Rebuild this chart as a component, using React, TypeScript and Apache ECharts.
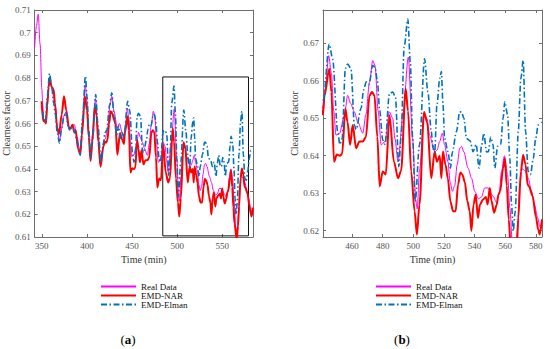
import React, { useEffect, useRef } from "react";
import * as echarts from "echarts";

// ---- data (time in min, clearness factor) ----
const seriesNames = ["Real Data", "EMD-NAR", "EMD-Elman"];

const realData: number[][] = [
  [342, 0.6935], [344, 0.703], [346, 0.7082], [348, 0.695], [350, 0.675], [351, 0.668], [352, 0.6617],
  [354, 0.66], [356, 0.67], [357, 0.675], [358.5, 0.679], [361, 0.676], [363, 0.672], [365, 0.667],
  [367, 0.658], [369.5, 0.652], [372, 0.658], [374, 0.663], [376.5, 0.665], [379, 0.66], [381, 0.657],
  [384, 0.659], [386, 0.6595], [389, 0.654], [392.5, 0.647], [395, 0.66], [398, 0.677], [400, 0.67],
  [402, 0.656], [404, 0.645], [406, 0.655], [409.5, 0.671], [412, 0.658], [415, 0.6425], [418, 0.65],
  [420, 0.653], [423, 0.658], [425.5, 0.668], [427.5, 0.672], [430, 0.6654], [433.5, 0.658], [436, 0.66],
  [439, 0.656], [441, 0.6525], [442.5, 0.658], [444.7, 0.6667], [446.5, 0.662], [448, 0.652],
  [449.5, 0.6455], [451.7, 0.6459], [455, 0.6508], [457.1, 0.6561], [459, 0.654], [461.5, 0.6517],
  [463.7, 0.649], [467, 0.646], [469, 0.651], [471.4, 0.6597], [473.5, 0.6654], [475, 0.664],
  [477, 0.652], [479, 0.6429], [481.5, 0.6438], [484.4, 0.6517], [486.5, 0.65], [488, 0.6445],
  [490, 0.6384], [493.4, 0.6517], [496.7, 0.6663], [499.5, 0.6446], [501.6, 0.628], [502.5, 0.6258],
  [504, 0.636], [507, 0.6513], [509, 0.6498], [510.6, 0.6455], [512.8, 0.6429], [514, 0.641],
  [515.5, 0.6415], [517.2, 0.6438], [518.9, 0.646], [520.4, 0.6429], [522.6, 0.6384], [524, 0.633],
  [525.5, 0.6305], [527, 0.632], [528.6, 0.6376], [530.3, 0.642], [531.4, 0.6425], [533, 0.641],
  [535.7, 0.6367], [538, 0.634], [540.1, 0.6305], [542.5, 0.6285], [544.5, 0.629], [546.6, 0.6314],
  [548.8, 0.6314], [550.5, 0.63], [552, 0.6292], [554.3, 0.6275], [556, 0.63], [557.6, 0.6358],
  [559.5, 0.64], [561.5, 0.635], [563, 0.626], [565, 0.614], [566.5, 0.612], [568, 0.62],
  [569.5, 0.632], [571, 0.6365], [573, 0.636], [575, 0.634], [577.2, 0.6305], [579, 0.627],
  [581.2, 0.6234], [582.6, 0.621], [584, 0.622],
];

const emdNar: number[][] = [
  [349.7, 0.6698], [351.5, 0.661], [353, 0.6615], [354.5, 0.66], [356, 0.668], [357.5, 0.676],
  [358.5, 0.68], [361, 0.676], [363, 0.675], [364.5, 0.669], [367, 0.658], [369, 0.6555], [372, 0.664],
  [374.5, 0.672], [377, 0.666], [380, 0.658], [382, 0.658], [384, 0.6595], [386, 0.656], [387.5, 0.657],
  [390, 0.649], [392.5, 0.6465], [394.5, 0.655], [397.6, 0.672], [400, 0.666], [402, 0.654],
  [404, 0.6435], [406, 0.652], [408.6, 0.6676], [410.5, 0.664], [412.5, 0.652], [415, 0.641],
  [418.2, 0.6499], [419.6, 0.652], [421, 0.6515], [422.7, 0.6528], [424.5, 0.66], [426.3, 0.6654],
  [428, 0.6645], [430, 0.6617], [431.5, 0.66], [433.7, 0.6462], [436.6, 0.6558], [439, 0.653],
  [441, 0.651], [442, 0.6561], [445.1, 0.6632], [446.5, 0.657], [448.2, 0.6384], [450, 0.6403],
  [452, 0.64], [453.5, 0.6405], [455.6, 0.6526], [457, 0.649], [458.7, 0.6429], [460.4, 0.6482],
  [462.6, 0.642], [464.8, 0.6438], [467, 0.6438], [469, 0.645], [471.4, 0.6561], [473, 0.657],
  [474.6, 0.6561], [476.5, 0.645], [478, 0.6318], [480, 0.6358], [482, 0.635], [484.4, 0.6508],
  [487.3, 0.6384], [490, 0.634], [492, 0.636], [495, 0.6579], [496.5, 0.652], [498.6, 0.6358],
  [500.8, 0.6252], [502.3, 0.619], [504, 0.627], [507, 0.6517], [509, 0.649], [511.7, 0.634],
  [513.9, 0.6411], [515.4, 0.6384], [517.2, 0.64], [518.3, 0.634], [519.3, 0.6411], [521, 0.6376],
  [522.5, 0.634], [524.2, 0.6278], [525.9, 0.6252], [527.6, 0.6252], [529.2, 0.6323], [530.7, 0.6355],
  [532, 0.635], [533.6, 0.633], [535.2, 0.628], [536.8, 0.6252], [537.9, 0.6199], [539.3, 0.627],
  [540.7, 0.6296], [542.2, 0.6234], [543.5, 0.627], [545.5, 0.6283], [547.3, 0.629], [548.5, 0.627],
  [549.9, 0.6314], [551, 0.628], [552.7, 0.6248], [554.5, 0.627], [555.5, 0.6296], [556.7, 0.6305],
  [558.6, 0.6367], [559.7, 0.6393], [561, 0.632], [562.3, 0.623], [563.5, 0.616], [566, 0.609],
  [567.5, 0.615], [568.5, 0.6234], [570.2, 0.6358], [571.7, 0.6402], [573.3, 0.6376], [574.6, 0.6323],
  [575.5, 0.6318], [577.9, 0.6292], [580, 0.6238], [581.5, 0.6203], [582.5, 0.619], [584, 0.623],
];

const emdElman: number[][] = [
  [351, 0.665], [352, 0.661], [354, 0.6605], [356, 0.672], [358.5, 0.682], [361, 0.676], [363, 0.669],
  [365, 0.664], [367, 0.656], [369.5, 0.6514], [372, 0.658], [374.5, 0.663], [376.5, 0.665], [379, 0.659],
  [381, 0.657], [384, 0.6585], [386, 0.657], [389, 0.652], [392.5, 0.646], [395, 0.662], [398.3, 0.6809],
  [400, 0.672], [402, 0.657], [404, 0.645], [406, 0.652], [409.7, 0.6728], [412, 0.66], [415.5, 0.643],
  [418.2, 0.6514], [420, 0.656], [422, 0.657], [425, 0.668], [427.5, 0.6735], [430, 0.663], [433, 0.655],
  [435, 0.659], [437, 0.653], [439, 0.656], [441, 0.654], [445.1, 0.6698], [447.3, 0.6658],
  [450.6, 0.6464], [452, 0.643], [453.5, 0.6445], [455.6, 0.6632], [457.1, 0.6645], [459.3, 0.6632],
  [461.5, 0.6482], [462.6, 0.647], [465.9, 0.6527], [467.5, 0.6575], [469.2, 0.6597], [471, 0.659],
  [473.5, 0.6641], [475, 0.6636], [476.5, 0.66], [478, 0.6521], [480, 0.6442], [481.5, 0.643],
  [484.4, 0.6566], [486.6, 0.657], [488.3, 0.6555], [490.5, 0.6371], [492, 0.645], [494, 0.669],
  [496.4, 0.6765], [498, 0.665], [499.5, 0.645], [501.2, 0.6278], [504, 0.6429], [507.3, 0.6659],
  [509.5, 0.657], [511.7, 0.6464], [512.8, 0.642], [513.9, 0.6407], [515.4, 0.6535], [517.2, 0.6606],
  [518.3, 0.6625], [519.3, 0.654], [520.4, 0.6446], [522.6, 0.6411], [524.2, 0.6367], [525.5, 0.641],
  [528.1, 0.6464], [530.3, 0.6517], [531.4, 0.6517], [533, 0.65], [534.7, 0.6446], [537, 0.644],
  [539, 0.6411], [541, 0.643], [542.9, 0.6367], [544.5, 0.6425], [546, 0.646], [547.8, 0.641],
  [549, 0.6411], [550.5, 0.645], [552, 0.643], [553.2, 0.6367], [555, 0.6425], [557, 0.643],
  [558.6, 0.65], [559.7, 0.6544], [561.5, 0.651], [563, 0.6393], [564.1, 0.627], [565.2, 0.6199],
  [566.5, 0.625], [568.5, 0.6464], [570.2, 0.6606], [571.7, 0.6654], [573.3, 0.6464], [575, 0.6358],
  [576.5, 0.635], [578.3, 0.6393], [579.9, 0.6446], [581.5, 0.6482], [583.8, 0.649],
];

// axis ranges
const rangeA = { xMin: 342, xMax: 584, yMin: 0.61, yMax: 0.71 };
const rangeB = { xMin: 441, xMax: 584, yMin: 0.6183, yMax: 0.6789 };
// zoom box drawn in panel (a): [t0, t1, v0, v1]
const zoomBox = [484, 579, 0.6105, 0.6805];
const panelLabels = ["a", "b"];

const FONT = "Liberation Serif";
const AXIS_COLOR = "#6e6e6e";
const LABEL_COLOR = "#555";

export default function App() {
  const ref = useRef<HTMLDivElement>(null);

  useEffect(() => {
    if (!ref.current) return;
    const chart = echarts.init(ref.current, undefined, { renderer: "svg" });

    const fmt = (v: number) => String(+v.toFixed(3));

    const xAxisMain = (grid: number, r: any, split: number) => ({
      type: "value",
      gridIndex: grid,
      position: "bottom",
      min: r.xMin,
      max: r.xMax,
      splitNumber: split,
      name: "Time (min)",
      nameLocation: "middle",
      nameGap: 15,
      nameTextStyle: { fontFamily: FONT, fontSize: 10, color: "#333" },
      axisLine: { show: true, lineStyle: { color: AXIS_COLOR, width: 1 } },
      axisTick: { show: true, inside: true, length: 3, lineStyle: { color: AXIS_COLOR } },
      axisLabel: {
        fontFamily: FONT, fontSize: 9, color: LABEL_COLOR, margin: 4,
        showMinLabel: false, showMaxLabel: false, formatter: fmt,
      },
      splitLine: { show: false },
    });
    const xAxisTop = (grid: number, r: any, split: number) => ({
      type: "value",
      gridIndex: grid,
      position: "top",
      min: r.xMin,
      max: r.xMax,
      splitNumber: split,
      axisLine: { show: true, lineStyle: { color: AXIS_COLOR, width: 1 } },
      axisTick: { show: true, inside: true, length: 3, lineStyle: { color: AXIS_COLOR } },
      axisLabel: { show: false },
      splitLine: { show: false },
    });
    const yAxisMain = (grid: number, r: any, extra: any) => ({
      type: "value",
      gridIndex: grid,
      position: "left",
      min: r.yMin,
      max: r.yMax,
      ...extra,
      name: "Clearness factor",
      nameLocation: "middle",
      nameGap: 22,
      nameTextStyle: { fontFamily: FONT, fontSize: 10, color: "#333" },
      axisLine: { show: true, lineStyle: { color: AXIS_COLOR, width: 1 } },
      axisTick: { show: true, inside: true, length: 3, lineStyle: { color: AXIS_COLOR } },
      axisLabel: {
        fontFamily: FONT, fontSize: 9, color: LABEL_COLOR, margin: 4,
        showMinLabel: extra.interval ? true : false, showMaxLabel: extra.interval ? true : false,
        formatter: fmt,
      },
      splitLine: { show: false },
    });
    const yAxisRight = (grid: number, r: any, extra: any) => ({
      type: "value",
      gridIndex: grid,
      position: "right",
      min: r.yMin,
      max: r.yMax,
      ...extra,
      axisLine: { show: true, lineStyle: { color: AXIS_COLOR, width: 1 } },
      axisTick: { show: true, inside: true, length: 3, lineStyle: { color: AXIS_COLOR } },
      axisLabel: { show: false },
      splitLine: { show: false },
    });

    const datasets = [realData, emdNar, emdElman];
    const styles = [
      { color: "#ff00ff", width: 1, type: "solid" },
      { color: "#ff0000", width: 2, type: "solid" },
      { color: "#0072bd", width: 1.6, type: [6, 2.5, 1.5, 2.5] },
    ];

    const series: any[] = [];
    [0, 1].forEach((g) => {
      datasets.forEach((d, i) => {
        const s: any = {
          name: seriesNames[i],
          type: "line",
          xAxisIndex: g * 2,
          yAxisIndex: g * 2,
          data: d,
          symbol: "none",
          showSymbol: false,
          smooth: 0.3,
          smoothMonotone: "x",
          clip: true,
          lineStyle: { color: styles[i].color, width: styles[i].width, type: styles[i].type },
          itemStyle: { color: styles[i].color },
          z: 2 + i,
        };
        if (g === 0 && i === 0) {
          s.markArea = {
            silent: true,
            itemStyle: { color: "rgba(0,0,0,0)", borderColor: "#111", borderWidth: 1 },
            data: [[{ coord: [zoomBox[0], zoomBox[3]] }, { coord: [zoomBox[1], zoomBox[2]] }]],
          };
        }
        series.push(s);
      });
    });

    const legendBase = {
      orient: "vertical",
      top: 277,
      itemWidth: 35,
      itemHeight: 11,
      itemGap: 0,
      selectedMode: false,
      itemStyle: { opacity: 0 },
      textStyle: { fontFamily: FONT, fontSize: 9, color: "#111" },
      data: seriesNames,
    };

    chart.setOption({
      animation: false,
      backgroundColor: "#fff",
      grid: [
        { left: 34, top: 10, width: 219, height: 227 },
        { left: 323, top: 10, width: 219, height: 227 },
      ],
      xAxis: [
        xAxisMain(0, rangeA, 5),
        xAxisTop(0, rangeA, 5),
        xAxisMain(1, rangeB, 7),
        xAxisTop(1, rangeB, 7),
      ],
      yAxis: [
        yAxisMain(0, rangeA, { interval: 0.01 }),
        yAxisRight(0, rangeA, { interval: 0.01 }),
        yAxisMain(1, rangeB, { splitNumber: 6 }),
        yAxisRight(1, rangeB, { splitNumber: 6 }),
      ],
      legend: [
        { ...legendBase, left: 95 },
        { ...legendBase, left: 370 },
      ],
      series,
      graphic: [128, 402].map((x, i) => ({
        type: "text",
        x,
        y: 339,
        style: {
          text: "({b|" + panelLabels[i] + "})",
          fill: "#000",
          font: `13px "${FONT}"`,
          align: "center",
          verticalAlign: "middle",
          textAlign: "center",
          textVerticalAlign: "middle",
          rich: { b: { fontWeight: "bold", fontSize: 13, fontFamily: FONT, fill: "#000" } },
        },
      })),
    });

    return () => chart.dispose();
  }, []);

  return (
    <div
      ref={ref}
      style={{ position: "fixed", left: 0, top: 0, width: 550, height: 349, background: "#fff" }}
    />
  );
}
